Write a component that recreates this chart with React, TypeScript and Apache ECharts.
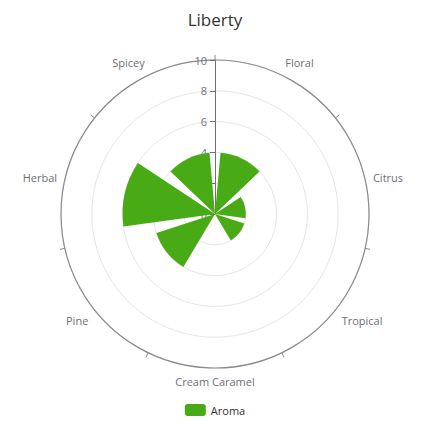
import { useEffect, useRef } from 'react';
import * as echarts from 'echarts';

const categories = ['Floral', 'Citrus', 'Tropical', 'Cream Caramel', 'Pine', 'Herbal', 'Spicey'];
const aroma = [4, 2, 2, 0, 4, 6, 4];
const radiusMax = 10;
const radiusStep = 2;

const GREEN = '#48aa14';
const FONT = '"Open Sans", "Noto Sans", sans-serif';

export default function App() {
  const chartRef = useRef<HTMLDivElement>(null);

  useEffect(() => {
    if (!chartRef.current) return;
    document.body.style.margin = '0';
    const chart = echarts.init(chartRef.current, undefined, { renderer: 'svg' });

    const option: echarts.EChartsOption = {
      animation: false,
      backgroundColor: '#ffffff',
      textStyle: { fontFamily: FONT },
      title: {
        text: 'Liberty',
        left: 'center',
        top: 6,
        textStyle: { fontSize: 17, fontWeight: 'normal', color: '#333333', fontFamily: FONT }
      },
      legend: {
        data: ['Aroma'],
        bottom: 9,
        itemWidth: 21,
        itemHeight: 12,
        textStyle: { color: '#333333', fontSize: 11, fontFamily: FONT }
      },
      polar: {
        center: ['50%', 214],
        radius: 154
      },
      angleAxis: {
        type: 'category',
        data: categories,
        startAngle: 90,
        clockwise: true,
        axisLine: { lineStyle: { color: '#8a8a92', width: 1.2 } },
        axisTick: { show: true, length: 5, lineStyle: { color: '#8a8a92' } },
        axisLabel: { color: '#6e7079', fontSize: 11, margin: 8 },
        splitLine: { show: false }
      },
      radiusAxis: {
        min: 0,
        max: radiusMax,
        interval: radiusStep,
        axisLine: { lineStyle: { color: '#6e7079' } },
        axisTick: { show: true, length: 5 },
        axisLabel: { color: '#6e7079', fontSize: 11 },
        splitLine: { show: true, lineStyle: { color: '#e6e6e6' } }
      },
      series: [
        {
          name: 'Aroma',
          type: 'bar',
          coordinateSystem: 'polar',
          data: aroma,
          itemStyle: { color: GREEN }
        }
      ]
    };

    chart.setOption(option);
    return () => {
      chart.dispose();
    };
  }, []);

  return <div ref={chartRef} style={{ width: 430, height: 430 }} />;
}
